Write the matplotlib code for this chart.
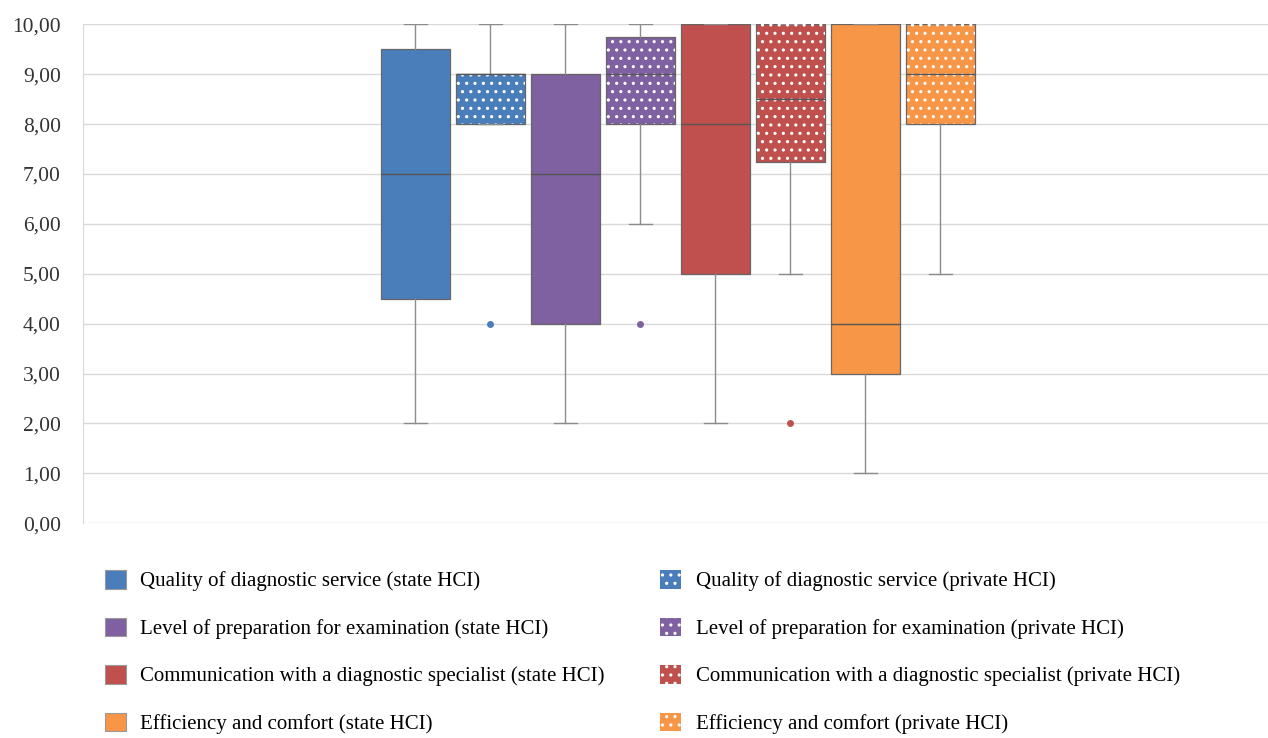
import numpy as np
import matplotlib.pyplot as plt
from matplotlib.patches import Patch, PathPatch
from matplotlib.ticker import FuncFormatter

plt.rcParams['font.family'] = ['Liberation Serif', 'DejaVu Serif']
plt.rcParams['hatch.linewidth'] = 1.1

labels = [
    "Quality of diagnostic service (state HCI)",
    "Quality of diagnostic service (private HCI)",
    "Level of preparation for examination (state HCI)",
    "Level of preparation for examination (private HCI)",
    "Communication with a diagnostic specialist (state HCI)",
    "Communication with a diagnostic specialist (private HCI)",
    "Efficiency and comfort (state HCI)",
    "Efficiency and comfort (private HCI)",
]
whislo = [2, 8, 2, 6, 2, 5, 1, 5]
q1 = [4.5, 8, 4, 8, 5, 7.25, 3, 8]
med = [7, 9, 7, 9, 8, 8.5, 4, 9]
q3 = [9.5, 9, 9, 9.75, 10, 10, 10, 10]
whishi = [10, 10, 10, 10, 10, 10, 10, 10]
outliers = [[], [4], [], [4], [], [2], [], []]
private = [False, True, False, True, False, True, False, True]
colors = ['#4a7ebb', '#4a7ebb', '#7f60a0', '#7f60a0',
          '#c0504d', '#c0504d', '#f79646', '#f79646']

stats = []
for i in range(len(labels)):
    stats.append(dict(whislo=whislo[i], q1=q1[i], med=med[i], q3=q3[i],
                      whishi=whishi[i], fliers=outliers[i], label=labels[i]))

fig = plt.figure(figsize=(12.68, 7.38), dpi=100)
ax = fig.add_axes([0.0655, 0.291, 0.9345, 0.676])

pos = np.arange(1, len(labels) + 1)
bp = ax.bxp(stats, positions=pos, widths=0.92, capwidths=0.3, patch_artist=True,
            showfliers=True,
            boxprops=dict(edgecolor='#666666', linewidth=0.9),
            medianprops=dict(color='#555555', linewidth=1.0),
            whiskerprops=dict(color='#8c8c8c', linewidth=1.0),
            capprops=dict(color='#8c8c8c', linewidth=1.0),
            flierprops=dict(marker='o', markersize=5, markeredgewidth=0))

for i, box in enumerate(bp['boxes']):
    box.set_facecolor(colors[i])
    box.set_zorder(2)
    if private[i]:
        # white dotted pattern on top of the filled box
        over = PathPatch(box.get_path(), transform=box.get_transform(),
                         fill=False, hatch='..', edgecolor='white',
                         linewidth=0, zorder=2.5)
        ax.add_patch(over)
for i, fl in enumerate(bp['fliers']):
    fl.set_markerfacecolor(colors[i])
for m in bp['medians']:
    m.set_zorder(3)

ax.set_xlim(-3.43, 12.37)
ax.set_ylim(0, 10)
ax.set_yticks(np.arange(0, 11, 1))
ax.yaxis.set_major_formatter(FuncFormatter(lambda v, p: f"{v:.2f}".replace('.', ',')))
ax.set_xticks([])
ax.tick_params(axis='y', length=0, labelsize=15.5, pad=16, colors='#333333')
ax.grid(axis='y', color='#d9d9d9', linewidth=1.0, zorder=0)
ax.set_axisbelow(True)
for s in ['top', 'right', 'bottom']:
    ax.spines[s].set_visible(False)
ax.spines['left'].set_color('#d9d9d9')

left_handles, right_handles = [], []
for i in range(len(labels)):
    if private[i]:
        h = Patch(facecolor=colors[i], edgecolor='white', hatch='..',
                  linewidth=0, label=labels[i])
        right_handles.append(h)
    else:
        h = Patch(facecolor=colors[i], edgecolor='#999999', linewidth=0.8,
                  label=labels[i])
        left_handles.append(h)

for handles, x in [(left_handles, 0.068), (right_handles, 0.506)]:
    fig.legend(handles=handles, loc='upper left', bbox_to_anchor=(x, 0.253),
               frameon=False, fontsize=15, labelspacing=1.25,
               handlelength=1.0, handleheight=1.0, handletextpad=0.7)

fig.savefig('out.png', dpi=100)
